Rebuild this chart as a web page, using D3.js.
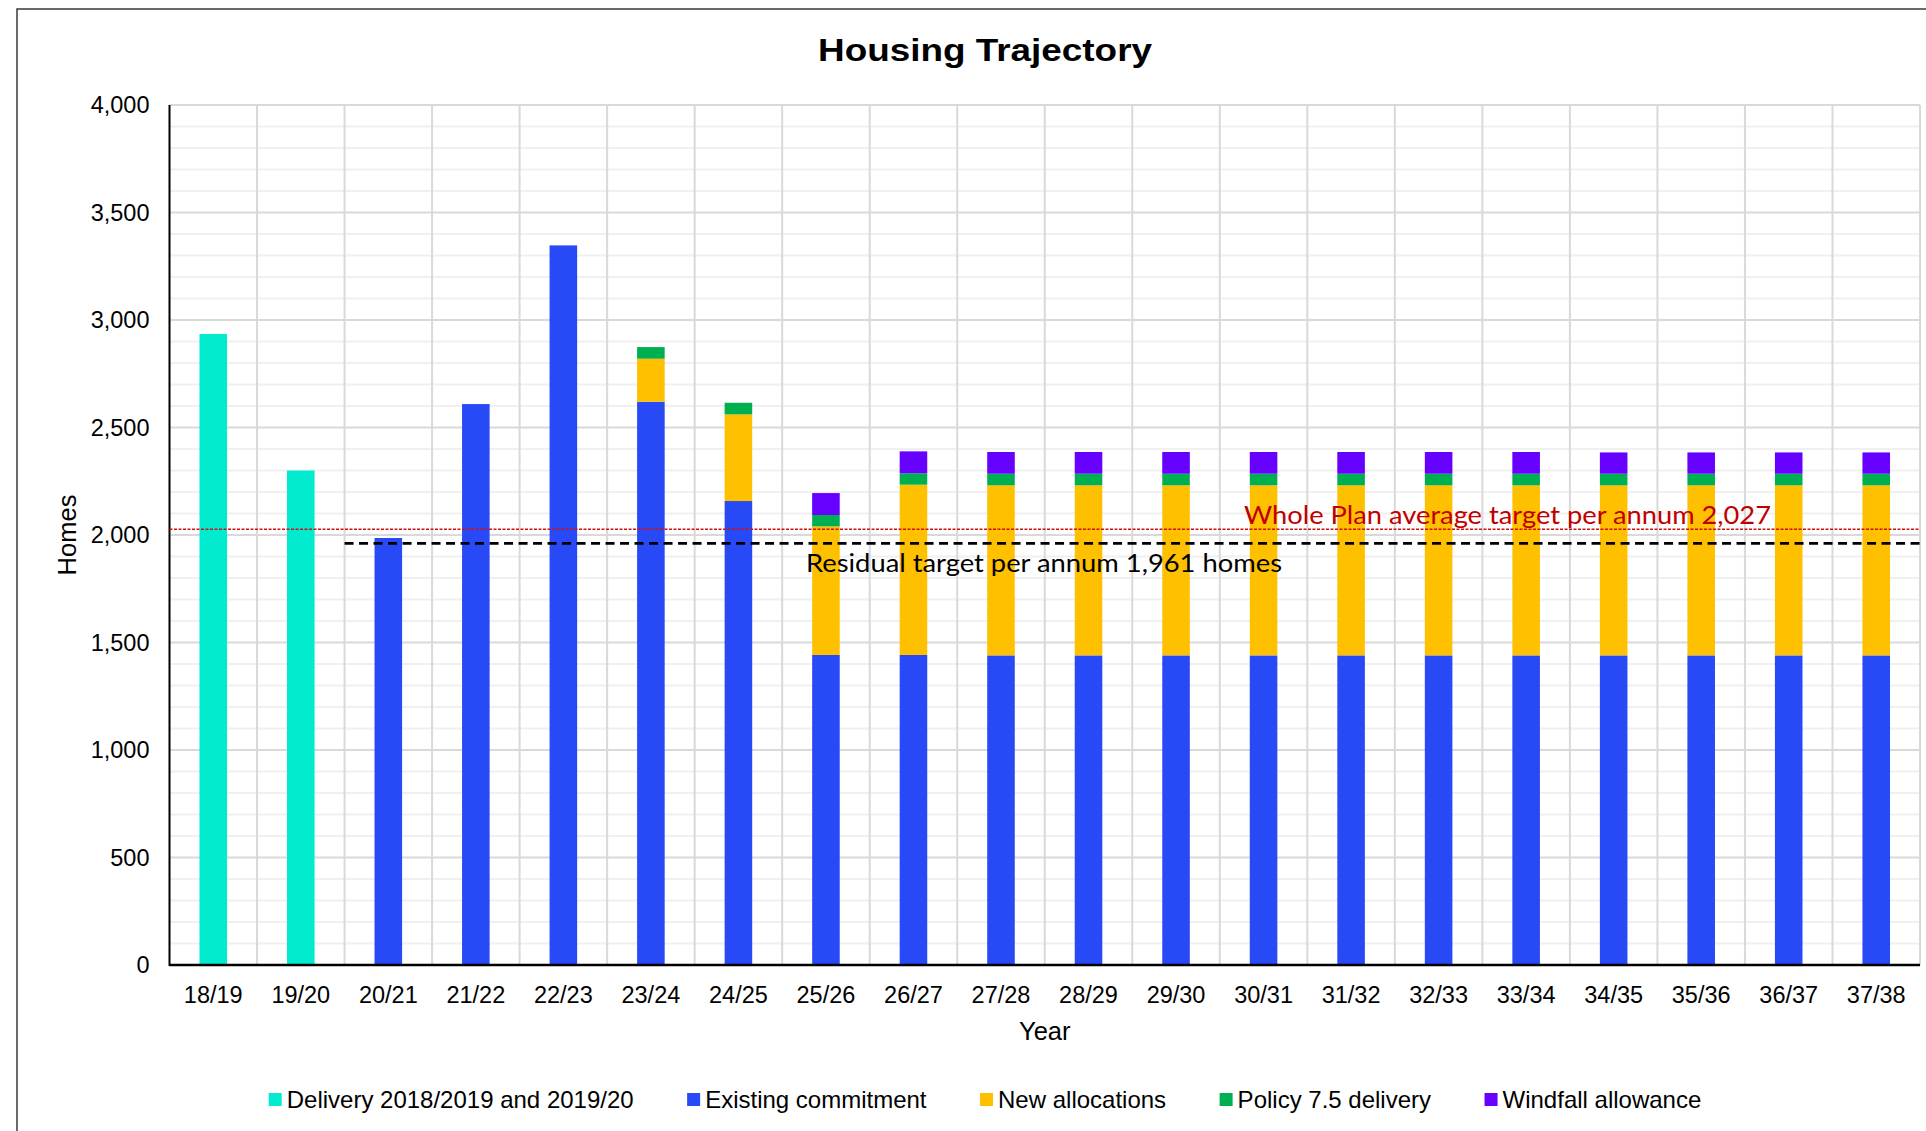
<!DOCTYPE html>
<html>
<head>
<meta charset="utf-8">
<script src="https://cdn.jsdelivr.net/npm/d3@7"></script>
<style>
  body { margin: 0; background: #fff; }
  svg { display: block; font-family: "Liberation Sans", Arial, sans-serif; }
</style>
</head>
<body>
<div id="chart"></div>
<script>
// categories
const years = ["18/19", "19/20", "20/21", "21/22", "22/23", "23/24", "24/25", "25/26", "26/27", "27/28",
  "28/29", "29/30", "30/31", "31/32", "32/33", "33/34", "34/35", "35/36", "36/37", "37/38"];

// series values (homes)
const delivery   = [2935, 2300, 0, 0, 0, 0, 0, 0, 0, 0, 0, 0, 0, 0, 0, 0, 0, 0, 0, 0];
const existing   = [0, 0, 1986, 2609, 3347, 2620, 2158, 1442, 1442, 1440, 1440, 1440, 1440, 1440, 1440, 1440, 1440, 1440, 1440, 1440];
const newAlloc   = [0, 0, 0, 0, 0, 200, 403, 598, 792, 791, 791, 791, 791, 791, 791, 791, 791, 791, 791, 791];
const policy75   = [0, 0, 0, 0, 0, 54, 54, 53, 53, 54, 54, 54, 54, 54, 54, 54, 54, 54, 54, 54];
const windfall   = [0, 0, 0, 0, 0, 0, 0, 102, 102, 101, 101, 101, 101, 101, 101, 101, 99, 99, 99, 99];

const seriesNames = ["Delivery 2018/2019 and 2019/20", "Existing commitment", "New allocations", "Policy 7.5 delivery", "Windfall allowance"];
const seriesKeys = ["delivery", "existing", "newAlloc", "policy75", "windfall"];
const colors = ["#03ebcf", "#2849f6", "#ffc000", "#00b050", "#6600ff"];

const yTicks = [0, 500, 1000, 1500, 2000, 2500, 3000, 3500, 4000];
const wholePlanTarget = 2027;
const residualTarget = 1961;

// dimensions
const width = 1926;
const height = 1131;
const marginLeft = 169.5;
const marginRight = 6;
const marginTop = 105;
const marginBottom = 166;

const table = years.map((yr, i) => ({
  year: yr,
  delivery: delivery[i],
  existing: existing[i],
  newAlloc: newAlloc[i],
  policy75: policy75[i],
  windfall: windfall[i]
}));

const x = d3.scaleBand()
  .domain(years)
  .range([marginLeft, width - marginRight])
  .paddingInner(0)
  .paddingOuter(0);

const y = d3.scaleLinear()
  .domain([0, 4000])
  .range([height - marginBottom, marginTop]);

const barW = x.bandwidth() * 0.315;

const svg = d3.select("#chart").append("svg")
  .attr("width", width)
  .attr("height", height)
  .attr("viewBox", [0, 0, width, height]);

// outer chart border (only top & left are in view)
svg.append("rect")
  .attr("x", 17).attr("y", 9)
  .attr("width", width).attr("height", height)
  .attr("fill", "none")
  .attr("stroke", "#3a3a3a")
  .attr("stroke-width", 1.5);

// title
svg.append("text")
  .attr("x", 985).attr("y", 61)
  .attr("text-anchor", "middle")
  .attr("textLength", 334)
  .attr("lengthAdjust", "spacingAndGlyphs")
  .style("font-size", "32px")
  .style("font-weight", "bold")
  .text("Housing Trajectory");

// minor gridlines every 100
const grid = svg.append("g");
grid.selectAll("line.minor")
  .data(d3.range(100, 4000, 100).filter(v => v % 500 !== 0))
  .join("line")
    .attr("class", "minor")
    .attr("x1", marginLeft).attr("x2", width - marginRight)
    .attr("y1", d => y(d)).attr("y2", d => y(d))
    .attr("stroke", "#f0f0f0")
    .attr("stroke-width", 2);

// major gridlines
grid.selectAll("line.major")
  .data(yTicks.slice(1))
  .join("line")
    .attr("class", "major")
    .attr("x1", marginLeft).attr("x2", width - marginRight)
    .attr("y1", d => y(d)).attr("y2", d => y(d))
    .attr("stroke", "#d9d9d9")
    .attr("stroke-width", 2);

// vertical gridlines at category boundaries
grid.selectAll("line.vert")
  .data(years.slice(1).concat(["end"]))
  .join("line")
    .attr("class", "vert")
    .attr("x1", d => d === "end" ? width - marginRight : x(d))
    .attr("x2", d => d === "end" ? width - marginRight : x(d))
    .attr("y1", y(4000)).attr("y2", y(0))
    .attr("stroke", "#d9d9d9")
    .attr("stroke-width", 2);

// stacked bars
const stacked = d3.stack().keys(seriesKeys)(table);

svg.append("g")
  .selectAll("g")
  .data(stacked)
  .join("g")
    .attr("fill", (d, i) => colors[i])
  .selectAll("rect")
  .data(d => d.filter(s => s[1] - s[0] > 0))
  .join("rect")
    .attr("x", d => x(d.data.year) + (x.bandwidth() - barW) / 2)
    .attr("width", barW)
    .attr("y", d => y(d[1]))
    .attr("height", d => y(d[0]) - y(d[1]));

// axes
svg.append("g")
  .attr("transform", `translate(${marginLeft},0)`)
  .call(d3.axisLeft(y).tickValues(yTicks).tickFormat(d3.format(",")).tickSize(0).tickPadding(20))
  .call(g => g.select(".domain").remove())
  .selectAll("text")
    .style("font-family", "Liberation Sans, Arial, sans-serif")
    .style("font-size", "23.5px")
    .attr("fill", "#000");

svg.append("g")
  .attr("transform", `translate(0,${height - marginBottom})`)
  .call(d3.axisBottom(x).tickSize(0).tickPadding(21))
  .call(g => g.select(".domain").remove())
  .selectAll("text")
    .style("font-family", "Liberation Sans, Arial, sans-serif")
    .style("font-size", "23.5px")
    .attr("fill", "#000");

svg.append("line")
  .attr("x1", marginLeft).attr("x2", marginLeft)
  .attr("y1", y(4000)).attr("y2", y(0) + 1)
  .attr("stroke", "#000").attr("stroke-width", 2);

svg.append("line")
  .attr("x1", marginLeft).attr("x2", width - marginRight)
  .attr("y1", y(0)).attr("y2", y(0))
  .attr("stroke", "#000").attr("stroke-width", 2.5);

// target lines
svg.append("line")
  .attr("x1", marginLeft).attr("x2", width - marginRight)
  .attr("y1", y(wholePlanTarget)).attr("y2", y(wholePlanTarget))
  .attr("stroke", "#d01010")
  .attr("stroke-width", 1.6)
  .attr("stroke-dasharray", "3,1.5");

svg.append("line")
  .attr("x1", x("20/21")).attr("x2", width - marginRight)
  .attr("y1", y(residualTarget)).attr("y2", y(residualTarget))
  .attr("stroke", "#000")
  .attr("stroke-width", 2.7)
  .attr("stroke-dasharray", "9,5.5");

svg.append("text")
  .attr("x", 1244).attr("y", 524)
  .attr("textLength", 527)
  .attr("lengthAdjust", "spacingAndGlyphs")
  .attr("fill", "#c00000")
  .style("font-family", "Lato, 'Open Sans', sans-serif")
  .style("font-size", "25px")
  .text("Whole Plan average target per annum 2,027");

svg.append("text")
  .attr("x", 806).attr("y", 572)
  .attr("textLength", 476)
  .attr("lengthAdjust", "spacingAndGlyphs")
  .attr("fill", "#000")
  .style("font-family", "Lato, 'Open Sans', sans-serif")
  .style("font-size", "25px")
  .text("Residual target per annum 1,961 homes");

// axis titles
svg.append("text")
  .attr("x", (marginLeft + width - marginRight) / 2)
  .attr("y", 1040)
  .attr("text-anchor", "middle")
  .style("font-size", "25.5px")
  .text("Year");

svg.append("text")
  .attr("transform", `translate(76,${(y(0) + y(4000)) / 2}) rotate(-90)`)
  .attr("text-anchor", "middle")
  .style("font-size", "25.5px")
  .text("Homes");

// legend
const legend = svg.append("g");
const items = legend.selectAll("g")
  .data(seriesNames)
  .join("g");
items.append("rect")
  .attr("y", 1093)
  .attr("width", 13).attr("height", 13)
  .attr("fill", (d, i) => colors[i]);
items.append("text")
  .attr("x", 18).attr("y", 1108)
  .style("font-size", "24px")
  .text(d => d);

const gap = 53.5;
let cursor = 0;
items.each(function() {
  const w = d3.select(this).select("text").node().getComputedTextLength();
  d3.select(this).attr("transform", `translate(${cursor},0)`);
  cursor += 18 + w + gap;
});
const legendW = cursor - gap;
legend.attr("transform", `translate(${985 - legendW / 2},0)`);
</script>
</body>
</html>
